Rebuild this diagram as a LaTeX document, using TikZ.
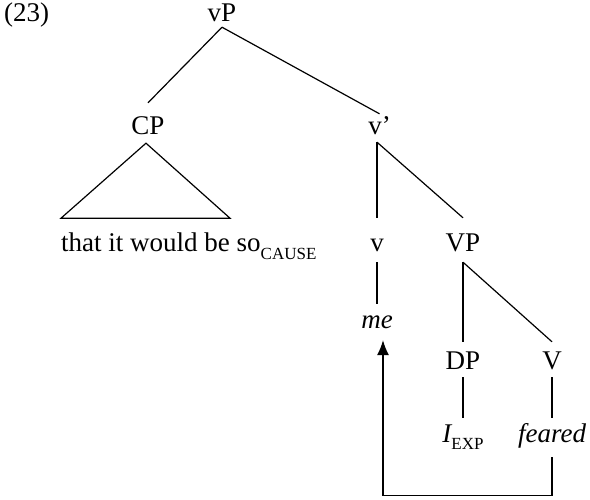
\documentclass[tikz,border=0pt]{standalone}
\usepackage{fontspec}
\setmainfont{Liberation Serif}
\usetikzlibrary{arrows.meta}
\newcommand{\subsz}[1]{\raisebox{-8pt}{\fontsize{17}{18}\selectfont #1}}
\tikzset{
  lbl/.style={inner sep=0pt, anchor=base, text height=17pt, text depth=0pt,
              font=\fontsize{27}{30}\selectfont},
  edge/.style={line width=1.2pt},
}
\begin{document}
\begin{tikzpicture}[x=1pt,y=-1pt]
\useasboundingbox (0,0) rectangle (590,500);
\node[lbl, anchor=base west] (ex) at (4,22) {(23)};
\node[lbl] (vP) at (222,22) {vP};
\node[lbl] (CP) at (148,135) {CP};
\node[lbl] (vbar) at (379.5,135) {v’};
\node[lbl, anchor=base west] (sent) at (61,252) {that it would be so\subsz{CAUSE}};
\node[lbl] (v) at (377,252) {v};
\node[lbl] (VP) at (463,252) {VP};
\node[lbl] (me) at (377,328) {\itshape me};
\node[lbl] (DP) at (463,370) {DP};
\node[lbl] (V) at (552,370) {V};
\node[lbl] (IEXP) at (463,442) {\itshape I\upshape\subsz{EXP}};
\node[lbl] (feared) at (552,442) {\itshape feared};
% edges
\draw[edge] ([yshift=-5pt]vP.south) -- ([yshift=15pt]CP.north);
\draw[edge] ([yshift=-5pt]vP.south) -- ([yshift=4pt]vbar.north);
\draw[edge] ([xshift=-2pt,yshift=-8pt]CP.south) -- ++(-85,75) -- ++(169,0) -- cycle;
\draw[edge] ([xshift=-2.5pt,yshift=-7pt]vbar.south) -- ([yshift=17pt]v.north);
\draw[edge] ([xshift=-2.5pt,yshift=-7pt]vbar.south) -- ([yshift=17pt]VP.north);
\draw[edge] ([yshift=-10pt]v.south) -- ([yshift=7pt]me.north);
\draw[edge] ([yshift=-10pt]VP.south) -- ([yshift=11pt]DP.north);
\draw[edge] ([yshift=-10pt]VP.south) -- ([yshift=11pt]V.north);
\draw[edge] ([yshift=-7pt]DP.south) -- ([yshift=7pt]IEXP.north);
\draw[edge] ([yshift=-7pt]V.south) -- ([yshift=7pt]feared.north);
\draw[edge, -{Latex[length=15pt,width=12pt]}] ([yshift=-15pt]feared.south) -- ++(0,38) -| ([xshift=6pt,yshift=-12pt]me.south);
\end{tikzpicture}
\end{document}
